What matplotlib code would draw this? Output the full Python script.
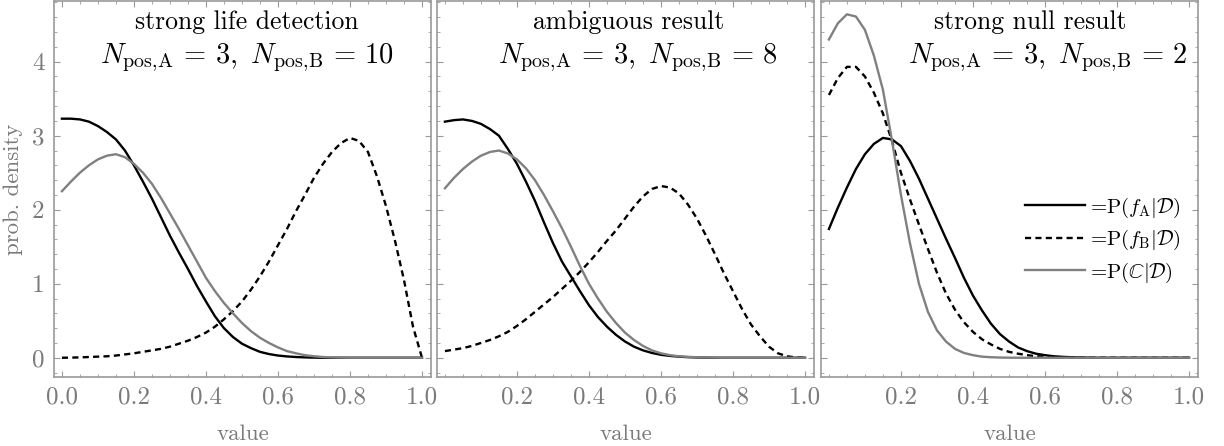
import numpy as np
import matplotlib
matplotlib.use("Agg")
import matplotlib.pyplot as plt
from matplotlib.ticker import MultipleLocator, FixedLocator

plt.rcParams['font.family'] = 'cmr10'
plt.rcParams['mathtext.fontset'] = 'cm'
plt.rcParams['axes.unicode_minus'] = False
plt.rcParams['axes.formatter.use_mathtext'] = True

# common grid of the read values
x = np.linspace(0, 1, 41)

# panel 1 : strong life detection
fA_1 = [3.23, 3.23, 3.22, 3.19, 3.13, 3.05, 2.95, 2.80, 2.60, 2.38, 2.15, 1.90, 1.65, 1.42,
        1.20, 0.97, 0.76, 0.56, 0.40, 0.28, 0.19, 0.13, 0.08, 0.05, 0.03, 0.018, 0.01, 0.005,
        0.002] + [0] * 12
fB_1 = [0.0, 0.002, 0.005, 0.01, 0.015, 0.02, 0.03, 0.045, 0.06, 0.08, 0.10, 0.12, 0.15, 0.19,
        0.23, 0.28, 0.34, 0.42, 0.52, 0.63, 0.76, 0.92, 1.10, 1.30, 1.52, 1.74, 1.98, 2.20,
        2.43, 2.62, 2.78, 2.90, 2.97, 2.93, 2.78, 2.45, 2.05, 1.58, 1.05, 0.42, 0.0]
C_1 = [2.25, 2.38, 2.50, 2.60, 2.68, 2.73, 2.75, 2.71, 2.62, 2.50, 2.35, 2.16, 1.95, 1.74,
       1.52, 1.30, 1.08, 0.90, 0.74, 0.60, 0.47, 0.36, 0.27, 0.20, 0.14, 0.09, 0.06, 0.035,
       0.02, 0.01, 0.005, 0.002] + [0] * 9

# panel 2 : ambiguous result
fA_2 = [3.19, 3.21, 3.22, 3.20, 3.16, 3.09, 3.00, 2.82, 2.62, 2.38, 2.12, 1.83, 1.55, 1.30,
        1.10, 0.90, 0.71, 0.55, 0.42, 0.31, 0.22, 0.15, 0.10, 0.065, 0.04, 0.025, 0.015, 0.008,
        0.004, 0.002] + [0] * 11
fB_2 = [0.09, 0.11, 0.13, 0.16, 0.20, 0.24, 0.29, 0.35, 0.43, 0.52, 0.62, 0.72, 0.82, 0.93,
        1.04, 1.16, 1.29, 1.43, 1.58, 1.72, 1.88, 2.04, 2.18, 2.28, 2.32, 2.30, 2.22, 2.07,
        1.88, 1.65, 1.40, 1.14, 0.90, 0.66, 0.45, 0.29, 0.15, 0.06, 0.02, 0.004, 0.0]
C_2 = [2.29, 2.43, 2.55, 2.65, 2.73, 2.78, 2.80, 2.76, 2.68, 2.56, 2.40, 2.20, 1.98, 1.75,
       1.50, 1.24, 1.00, 0.80, 0.62, 0.47, 0.34, 0.24, 0.16, 0.10, 0.06, 0.035, 0.02, 0.012,
       0.007, 0.004, 0.002] + [0] * 10

# panel 3 : strong null result
fA_3 = [1.74, 2.03, 2.30, 2.55, 2.75, 2.89, 2.97, 2.95, 2.86, 2.66, 2.42, 2.15, 1.88, 1.61,
        1.35, 1.08, 0.84, 0.64, 0.46, 0.32, 0.22, 0.14, 0.09, 0.055, 0.035, 0.02, 0.012, 0.007,
        0.004, 0.002] + [0] * 11
fB_3 = [3.55, 3.78, 3.93, 3.93, 3.80, 3.58, 3.30, 2.93, 2.50, 2.14, 1.80, 1.47, 1.15, 0.87,
        0.65, 0.48, 0.35, 0.25, 0.18, 0.12, 0.08, 0.055, 0.035, 0.022, 0.014, 0.008, 0.005,
        0.003, 0.001] + [0] * 12
C_3 = [4.30, 4.52, 4.64, 4.61, 4.43, 4.08, 3.62, 2.94, 2.20, 1.55, 1.00, 0.62, 0.37, 0.22,
       0.12, 0.065, 0.035, 0.015, 0.007, 0.003, 0.001] + [0] * 20

titles = ["strong life detection", "ambiguous result", "strong null result"]
N_B = [10, 8, 2]
fA = [fA_1, fA_2, fA_3]
fB = [fB_1, fB_2, fB_3]
C = [C_1, C_2, C_3]

# title positions (axes fraction)
t1x = [0.512, 0.508, 0.556]
t2x = [0.512, 0.532, 0.602]

gray = '#808080'
labgray = '#7a7a7a'

fig = plt.figure(figsize=(12.24, 4.46), dpi=100)
lefts = [54, 437, 821]
for i in range(3):
    ax = fig.add_axes([lefts[i] / 1224, 69 / 446, 377 / 1224, 376 / 446])
    ax.plot(x, fA[i], color='k', lw=1.7, label=r'=P$(f_\mathrm{A}|\mathcal{D})$')
    ax.plot(x, fB[i], color='k', lw=1.7, dashes=(2.6, 1.8),
            label=r'=P$(f_\mathrm{B}|\mathcal{D})$')
    ax.plot(x, C[i], color=gray, lw=1.7, label=r'=P$(\mathbb{C}|\mathcal{D})$')
    ax.set_xlim(-0.022, 1.025)
    ax.set_ylim(-0.26, 4.82)

    if i == 0:
        ax.xaxis.set_major_locator(FixedLocator([0, 0.2, 0.4, 0.6, 0.8, 1.0]))
        ax.set_ylabel("prob. density", color=labgray, fontsize=16.5, labelpad=6)
    else:
        ax.xaxis.set_major_locator(FixedLocator([0.2, 0.4, 0.6, 0.8, 1.0]))
    ax.xaxis.set_major_formatter(plt.FuncFormatter(lambda v, p: "%.1f" % v))
    ax.xaxis.set_minor_locator(MultipleLocator(0.05))
    ax.yaxis.set_major_locator(MultipleLocator(1))
    ax.yaxis.set_minor_locator(MultipleLocator(0.2))
    if i == 0:
        ax.yaxis.set_major_formatter(plt.FuncFormatter(lambda v, p: "%d" % v))
    else:
        ax.set_yticklabels([])
    ax.tick_params(which='both', direction='in', top=True, right=True,
                   color='#999999', labelcolor=labgray, labelsize=18)
    ax.tick_params(which='major', length=4, width=0.8, pad=7)
    ax.tick_params(which='minor', length=2.2, width=0.6)
    for s in ax.spines.values():
        s.set_color('#999999')
        s.set_linewidth(1.2)
    ax.set_xlabel("value", color=labgray, fontsize=16.5, labelpad=11)

    ax.text(t1x[i], 0.9255, titles[i], transform=ax.transAxes, ha='center',
            va='baseline', fontsize=18.5)
    ax.text(t2x[i], 0.835,
            r'$N_{\mathrm{pos,\!A}}\,=\,3,\ N_{\mathrm{pos,\!B}}\,=\,%d$' % N_B[i],
            transform=ax.transAxes, ha='center', va='baseline', fontsize=20.5)

    if i == 2:
        ax.legend(loc='center right', bbox_to_anchor=(0.955, 0.364), frameon=False,
                  fontsize=15, handlelength=2.9, handletextpad=0.25, borderpad=0,
                  borderaxespad=0, labelspacing=0.4)

plt.savefig("out.png", dpi=100)
